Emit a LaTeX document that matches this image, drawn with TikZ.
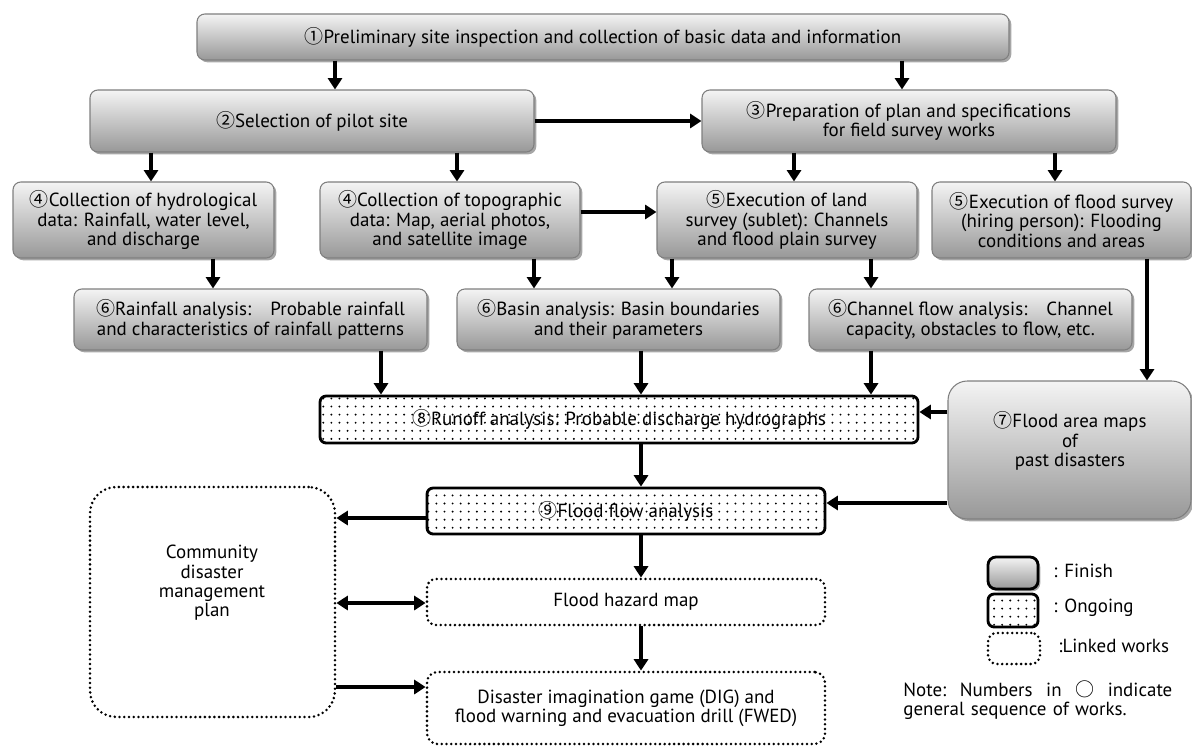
\documentclass[tikz,border=0pt]{standalone}
\usepackage{fontspec}
\setmainfont{PT Sans}
\newfontfamily\cjk{Noto Sans CJK JP}
\usetikzlibrary{arrows.meta,shadows,shadings,patterns.meta,calc}
\newcommand\cn[1]{{\cjk #1}}
\newcommand\bxfont{\fontsize{10.8}{11}\selectfont}
\definecolor{bord}{HTML}{7F7F7F}
\definecolor{gtop}{HTML}{F4F4F4}
\definecolor{gbot}{HTML}{989898}
\tikzset{
  sz/.style 2 args={minimum width=#1*0.02cm, minimum height=#2*0.02cm},
  finish/.style={draw=bord, line width=0.6pt, rounded corners=4.5pt,
    top color=gtop, bottom color=gbot,
    drop shadow={shadow xshift=1.3pt, shadow yshift=-1.3pt, opacity=0.35, fill=black},
    align=center, inner sep=0pt, font=\bxfont},
  ongoing/.style={draw=black, line width=1.6pt, rounded corners=3.5pt,
    pattern={Dots[distance=4.6pt, radius=0.6pt]},
    align=center, inner sep=0pt, font=\bxfont},
  linked/.style={draw=black, line width=1.6pt, line cap=round,
    dash pattern=on 0pt off 2.7pt, rounded corners=5pt,
    align=center, inner sep=0pt, font=\bxfont},
  plain/.style={align=center, inner sep=0pt, font=\bxfont},
  arr/.style={line width=2.2pt, -{Triangle[width=8pt,length=6.5pt]}},
  darr/.style={line width=2.2pt, {Triangle[width=8pt,length=6.5pt]}-{Triangle[width=8pt,length=6.5pt]}},
}
\begin{document}
\begin{tikzpicture}[x=0.02cm,y=-0.02cm]
\useasboundingbox (0,0) rectangle (1192,746);
% helper coordinates for connector positions
\coordinate (xA) at (335,0);
\coordinate (xB) at (902,0);
\coordinate (xC) at (151,0);
\coordinate (xD) at (457,0);
\coordinate (xE) at (794,0);
\coordinate (xF) at (1055,0);
\coordinate (xG) at (213,0);
\coordinate (xH) at (534,0);
\coordinate (xI) at (672,0);
\coordinate (xJ) at (871,0);
\coordinate (xK) at (1147,0);
\coordinate (xL) at (381,0);
\coordinate (xM) at (641,0);
\coordinate (yA) at (0,212);
\coordinate (yB) at (0,412);
\coordinate (yC) at (0,503);
\coordinate (yD) at (0,518);
\coordinate (yE) at (0,603);
\coordinate (yF) at (0,687);

% finished works
\node[finish, sz={812}{46}] (b1) at (603,37)
  {\cn{①}Preliminary site inspection and collection of basic data and information};
\node[finish, sz={444}{62}] (b2) at (312,121) {\cn{②}Selection of pilot site};
\node[finish, sz={414}{62}] (b3) at (909,121)
  {\cn{③}Preparation of plan and specifications\\for field survey works};
\node[finish, sz={261}{76}] (b4a) at (143.5,220)
  {\cn{④}Collection of hydrological\\data: Rainfall, water level,\\and discharge};
\node[finish, sz={260}{76}] (b4b) at (450,220)
  {\cn{④}Collection of topographic\\data: Map, aerial photos,\\and satellite image};
\node[finish, sz={260}{76}] (b5a) at (787,220)
  {\cn{⑤}Execution of land\\survey (sublet): Channels\\and flood plain survey};
\node[finish, sz={259}{76}] (b5b) at (1061.5,220)
  {\cn{⑤}Execution of flood survey\\(hiring person): Flooding\\conditions and areas};
\node[finish, sz={353}{61}] (rain) at (250.5,319.5)
  {\cn{⑥}Rainfall analysis:\quad Probable rainfall\\and characteristics of rainfall patterns};
\node[finish, sz={323}{61}] (basin) at (618.5,319.5)
  {\cn{⑥}Basin analysis: Basin boundaries\\and their parameters};
\node[finish, sz={323}{61}] (chan) at (970.5,319.5)
  {\cn{⑥}Channel flow analysis:\quad Channel\\capacity, obstacles to flow, etc.};
\node[finish, rounded corners=11pt, sz={243}{138}] (fam) at (1069.5,450) {};
\node[plain] (famt) at (1070,441) {\cn{⑦}Flood area maps\\of\\past disasters};

% ongoing works
\node[ongoing, sz={598}{47}] (runoff) at (619,419.5)
  {\cn{⑧}Runoff analysis: Probable discharge hydrographs};
\node[ongoing, sz={398}{46}] (ffa) at (626,511) {\cn{⑨}Flood flow analysis};

% linked works
\node[linked, rounded corners=15pt, sz={245}{230}] (cdmp) at (212.5,602) {};
\node[plain] (cdmpt) at (212,583) {Community\\disaster\\management\\plan};
\node[linked, sz={398}{46}] (fhm) at (626,602) {Flood hazard map};
\node[linked, rounded corners=6pt, sz={398}{72}] (dig) at (626,708)
  {Disaster imagination game (DIG) and\\flood warning and evacuation drill (FWED)};

% connectors
\draw[arr] (b1.south -| xA) -- (b2.north -| xA);
\draw[arr] (b1.south -| xB) -- (b3.north -| xB);
\draw[arr] (b2.east) -- (b3.west);
\draw[arr] (b2.south -| xC) -- (b4a.north -| xC);
\draw[arr] (b2.south -| xD) -- (b4b.north -| xD);
\draw[arr] (b3.south -| xE) -- (b5a.north -| xE);
\draw[arr] (b3.south -| xF) -- (b5b.north -| xF);
\draw[arr] (b4b.east |- yA) -- (b5a.west |- yA);
\draw[arr] (b4a.south -| xG) -- (rain.north -| xG);
\draw[arr] (b4b.south -| xH) -- (basin.north -| xH);
\draw[arr] (b5a.south -| xI) -- (basin.north -| xI);
\draw[arr] (b5a.south -| xJ) -- (chan.north -| xJ);
\draw[arr] (b5b.south -| xK) -- (fam.north -| xK);
\draw[arr] (rain.south -| xL) -- (runoff.north -| xL);
\draw[arr] (basin.south -| xM) -- (runoff.north -| xM);
\draw[arr] (chan.south -| xJ) -- (runoff.north -| xJ);
\draw[arr] (fam.west |- yB) -- (runoff.east |- yB);
\draw[arr] (runoff.south -| xM) -- (ffa.north -| xM);
\draw[arr] (fam.west |- yC) -- (ffa.east |- yC);
\draw[arr] (ffa.west |- yD) -- (cdmp.east |- yD);
\draw[darr] (cdmp.east |- yE) -- (fhm.west |- yE);
\draw[arr] (cdmp.east |- yF) -- (dig.west |- yF);
\draw[arr] (ffa.south -| xM) -- (fhm.north -| xM);
\draw[arr] (fhm.south -| xM) -- (dig.north -| xM);

% legend
\node[finish, draw=black, line width=1.6pt, sz={50}{32}] (lfin) at (1013,573) {};
\node[ongoing, sz={50}{33}] (long) at (1013,610.5) {};
\node[linked, sz={52}{31}] (llink) at (1014,648.5) {};
\node[plain, anchor=west] (tfin) at (1053,571) {: Finish};
\node[plain, anchor=west] (tong) at (1053,608) {: Ongoing};
\node[plain, anchor=west] (tlink) at (1058,646) {:Linked works};
\node[plain, anchor=north west, align=left, text width=269*0.02cm] (note) at (903,680)
  {Note:\hfill Numbers\hfill in\hfill \cn{○}\hfill indicate\\general sequence of works.};
\end{tikzpicture}
\end{document}
